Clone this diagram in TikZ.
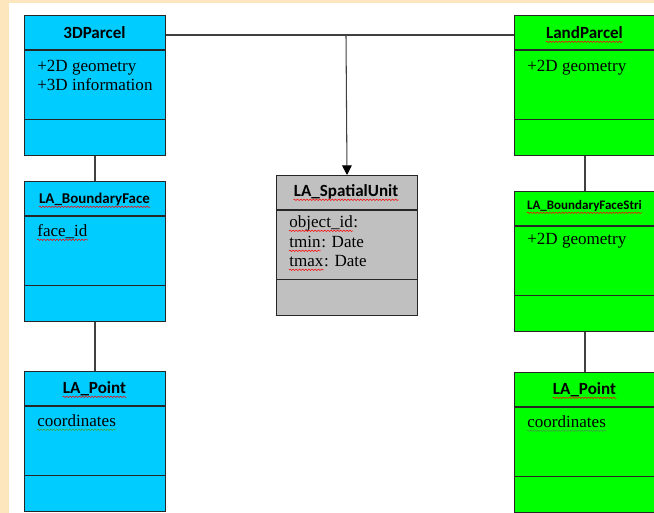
\documentclass[tikz,border=0pt]{standalone}
\usepackage{fontspec}
\setmainfont{Liberation Serif}
\newfontfamily\hdfont{Carlito}
\usetikzlibrary{arrows.meta,decorations.pathmorphing}

\definecolor{cream}{RGB}{253,229,190}
\definecolor{parcelblue}{RGB}{0,204,255}
\definecolor{parcelgreen}{RGB}{0,255,0}
\definecolor{unitgray}{RGB}{192,192,192}
\definecolor{gramgreen}{RGB}{60,160,60}

\begin{document}
\begin{tikzpicture}[x=0.02cm,y=-0.02cm]
\tikzstyle{every node}+=[inner sep=0pt]
\tikzstyle{clsbox}=[draw=black!85, line width=0.6pt, anchor=north west, minimum width=2.82cm, minimum height=2.8cm]
\tikzstyle{clsline}=[draw=black!85, line width=0.6pt]
\tikzstyle{conn}=[draw=black!75, line width=0.6pt]
\tikzstyle{clstitle}=[anchor=base, font=\hdfont\bfseries\fontsize{9.7}{11}\selectfont]
\tikzstyle{clsattr}=[anchor=base west, font=\fontsize{9.7}{11}\selectfont]
\tikzstyle{spellw}=[draw=red, line width=0.3pt, decorate, decoration={snake, amplitude=0.4pt, segment length=1.8pt}]
\tikzstyle{gramw}=[spellw, draw=gramgreen]
% background
\useasboundingbox (0,0) rectangle (654,513);
\fill [cream] (0,0) rectangle (654,513);
\fill [white] (9,3) rectangle (654,513);
% class boxes
\node [clsbox, fill=parcelblue] (p3d) at (24,15) {};
\node [clsbox, fill=parcelblue] (bface) at (24,181) {};
\node [clsbox, fill=parcelblue] (lptl) at (24,371) {};
\node [clsbox, fill=unitgray] (su) at (276,175) {};
\node [clsbox, fill=parcelgreen] (land) at (514,15) {};
\node [clsbox, fill=parcelgreen] (bstri) at (514,191) {};
\node [clsbox, fill=parcelgreen] (lptr) at (514,372) {};
\foreach \n in {p3d,bface,lptl,su,land,bstri,lptr} {
  \draw [clsline] (\n.north west) ++(0,35) -- ++(141,0);
  \draw [clsline] (\n.north west) ++(0,104.5) -- ++(141,0);
}
% titles
\node [clstitle] (p3dT) at (94.5,39) {3DParcel};
\node [clstitle, font=\hdfont\bfseries\fontsize{8.5}{10}\selectfont] (bfaceT) at (94.5,204) {LA\_BoundaryFace};
\node [clstitle] (lptlT) at (94.5,394) {LA\_Point};
\node [clstitle] (suT) at (346,197) {LA\_SpatialUnit};
\node [clstitle] (landT) at (584.5,39) {LandParcel};
\node [clstitle, font=\hdfont\bfseries\fontsize{7.4}{9}\selectfont] (bstriT) at (584.5,210) {LA\_BoundaryFaceStri};
\node [clstitle] (lptrT) at (584.5,395) {LA\_Point};
% attributes
\node [clsattr] (p3dA) at (37,72) {+2D geometry};
\node [clsattr] (p3dB) at (37,91) {+3D information};
\node [clsattr] (bfaceA) at (37,237) {face\_id};
\node [clsattr] (lptlA) at (37,427) {coordinates};
\node [clsattr] (suA) at (289,228) {object\_id};
\node [clsattr] (suAx) at (suA.base east) {:};
\node [clsattr] (suB) at (289,248) {tmin};
\node [clsattr] (suBx) at (suB.base east) {: Date};
\node [clsattr] (suC) at (289,267) {tmax};
\node [clsattr] (suCx) at (suC.base east) {: Date};
\node [clsattr] (landA) at (527,72) {+2D geometry};
\node [clsattr] (bstriA) at (527,245) {+2D geometry};
\node [clsattr] (lptrA) at (527,428) {coordinates};
% spell check waves
\foreach \n in {bfaceT,lptlT,suT,landT,bstriT,lptrT,bfaceA,suA,suB,suC}
  \draw [spellw] ([yshift=-1.6pt]\n.base west) -- ([yshift=-1.6pt]\n.base east);
\foreach \n in {lptlA,lptrA}
  \draw [gramw] ([yshift=-1.6pt]\n.base west) -- ([yshift=-1.6pt]\n.base east);
% connectors
\coordinate (jn) at (346,35);
\draw [conn] (p3d.east |- jn) -- (land.west |- jn);
\draw [conn, -{Triangle[length=5.5pt,width=5.5pt,color=black]}] (jn) -- (su.north);
\draw [conn] (p3d.south) -- (bface.north);
\draw [conn] (bface.south) -- (lptl.north);
\draw [conn] (land.south) -- (bstri.north);
\draw [conn] (bstri.south) -- (lptr.north);
\end{tikzpicture}
\end{document}
